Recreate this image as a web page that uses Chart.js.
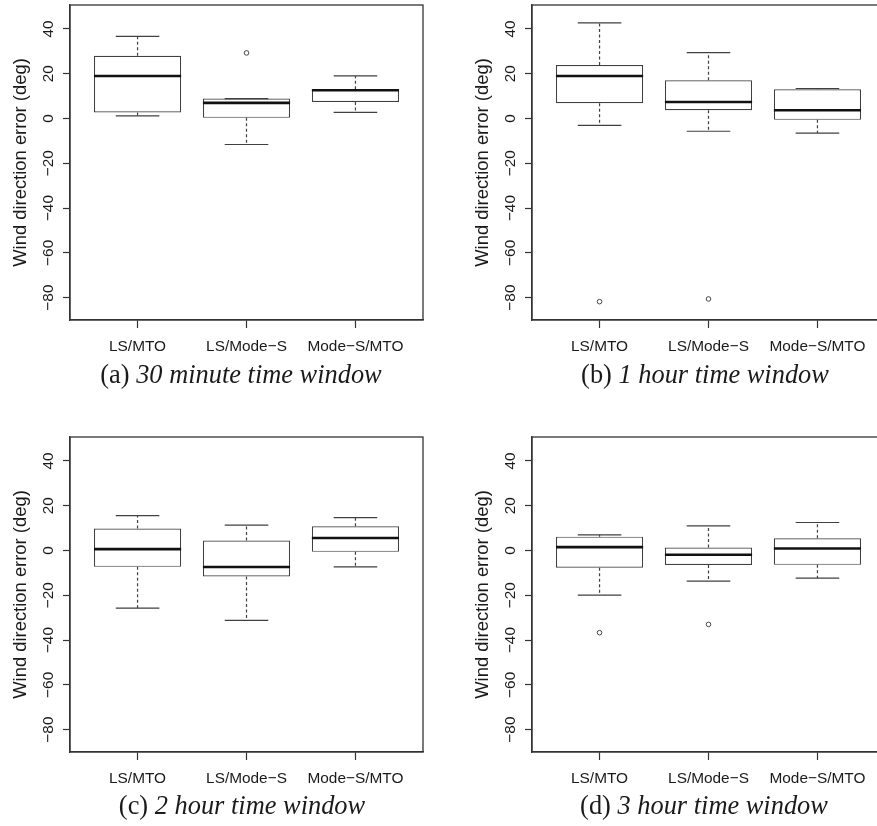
<!DOCTYPE html>
<html lang="en">
<head>
    <meta charset="UTF-8">
    <title>Wind direction error by time window</title>
    <script src="https://cdn.jsdelivr.net/npm/chart.js"></script>
    <style>
        html, body {
            margin: 0;
            padding: 0;
            background: #fff;
            overflow: hidden;
            width: 877px;
            height: 826px;
        }
        .panel {
            position: absolute;
            width: 440px;
            height: 400px;
        }
        .caption {
            position: absolute;
            transform: translateX(-50%);
            white-space: nowrap;
            font-family: "Liberation Serif", "Times New Roman", serif;
            font-size: 26.4px;
            line-height: 1;
            color: #1a1a1a;
        }
        .caption i { font-style: italic; }
    </style>
</head>
<body>
    <canvas id="chartA" class="panel" width="440" height="400" style="left:0;top:0"></canvas>
    <canvas id="chartB" class="panel" width="440" height="400" style="left:462px;top:0"></canvas>
    <canvas id="chartC" class="panel" width="440" height="400" style="left:0;top:432px"></canvas>
    <canvas id="chartD" class="panel" width="440" height="400" style="left:462px;top:432px"></canvas>

    <div class="caption" style="left:241px;top:361px">(a) <i>30 minute time window</i></div>
    <div class="caption" style="left:705px;top:361px">(b) <i>1 hour time window</i></div>
    <div class="caption" style="left:242px;top:792px">(c) <i>2 hour time window</i></div>
    <div class="caption" style="left:704px;top:792px">(d) <i>3 hour time window</i></div>

    <script>
        const groups = ['LS/MTO', 'LS/Mode\u2212S', 'Mode\u2212S/MTO'];
        const yTicks = [40, 20, 0, -20, -40, -60, -80];

        // each box: [lower whisker, Q1, median, Q3, upper whisker]
        const stats30min = [[1.2, 2.7, 19.0, 28.0, 36.7], [-11.6, 0.3, 7.0, 8.9, 8.9], [2.7, 7.4, 12.6, 13.1, 19.0]];
        const outliers30min = [[], [29.3], []];

        const stats1h = [[-3.1, 6.8, 19.0, 23.9, 42.7], [-5.7, 3.7, 7.4, 17.1, 29.4], [-6.5, -0.6, 3.7, 13.1, 13.4]];
        const outliers1h = [[-81.8], [-80.6], []];

        const stats2h = [[-25.7, -7.3, 0.6, 9.8, 15.6], [-31.2, -11.6, -7.4, 4.5, 11.3], [-7.3, -0.6, 5.6, 10.8, 14.7]];
        const outliers2h = [[], [], []];

        const stats3h = [[-19.9, -7.7, 1.5, 6.2, 7.0], [-13.7, -6.5, -1.9, 1.3, 11.0], [-12.3, -6.4, 0.9, 5.5, 12.5]];
        const outliers3h = [[-36.7], [-33.0], []];

        const lineColor = '#404040';
        const tickFont = { family: '"Liberation Sans", Arial, sans-serif', size: 15.4 };

        // whiskers, caps, medians and the frame, placed through the chart scales
        const boxPlotLines = {
            id: 'boxPlotLines',
            afterDatasetsDraw(chart, args, opts) {
                const { ctx, chartArea: area, scales: { x, y } } = chart;
                ctx.save();
                opts.stats.forEach((s, i) => {
                    const pos = i + 1;
                    const cx = x.getPixelForValue(pos);
                    const capL = x.getPixelForValue(pos - 0.2);
                    const capR = x.getPixelForValue(pos + 0.2);
                    const boxL = x.getPixelForValue(pos - 0.4);
                    const boxR = x.getPixelForValue(pos + 0.4);
                    const [lo, q1, med, q3, hi] = s.map(v => y.getPixelForValue(v));

                    ctx.strokeStyle = lineColor;
                    ctx.lineWidth = 1.2;
                    ctx.setLineDash([3, 2.5]);
                    ctx.beginPath();
                    ctx.moveTo(cx, q3); ctx.lineTo(cx, hi);
                    ctx.moveTo(cx, q1); ctx.lineTo(cx, lo);
                    ctx.stroke();

                    ctx.setLineDash([]);
                    ctx.beginPath();
                    ctx.moveTo(capL, hi); ctx.lineTo(capR, hi);
                    ctx.moveTo(capL, lo); ctx.lineTo(capR, lo);
                    ctx.stroke();

                    ctx.strokeStyle = '#111';
                    ctx.lineWidth = 2.6;
                    ctx.beginPath();
                    ctx.moveTo(boxL, med); ctx.lineTo(boxR, med);
                    ctx.stroke();
                });
                ctx.strokeStyle = '#333';
                ctx.lineWidth = 1.3;
                ctx.strokeRect(area.left, area.top, area.right - area.left, area.bottom - area.top);
                ctx.restore();
            }
        };

        function makeChart(id, stats, outliers) {
            const boxes = stats.map((s, i) => ({ x: i + 1, y: [s[1], s[3]] }));
            const points = [];
            outliers.forEach((list, i) => list.forEach(v => points.push({ x: i + 1, y: v })));

            new Chart(document.getElementById(id), {
                type: 'bar',
                data: {
                    datasets: [
                        {
                            data: boxes,
                            backgroundColor: '#fff',
                            borderColor: lineColor,
                            borderWidth: 1.2,
                            borderSkipped: false,
                            barPercentage: 0.8,
                            categoryPercentage: 1
                        },
                        {
                            type: 'scatter',
                            data: points,
                            pointStyle: 'circle',
                            pointRadius: 2.3,
                            borderWidth: 0.9,
                            borderColor: '#333',
                            backgroundColor: 'rgba(0,0,0,0)'
                        }
                    ]
                },
                options: {
                    responsive: false,
                    animation: false,
                    events: [],
                    layout: { padding: { top: 5, right: 17, left: 0, bottom: 0 } },
                    plugins: {
                        legend: { display: false },
                        tooltip: { enabled: false },
                        boxPlotLines: { stats: stats }
                    },
                    scales: {
                        x: {
                            type: 'linear',
                            min: 0.38,
                            max: 3.62,
                            offset: false,
                            afterBuildTicks: s => { s.ticks = groups.map((g, i) => ({ value: i + 1 })); },
                            afterFit: s => { s.height = 80; s.paddingLeft = 0; s.paddingRight = 0; },
                            grid: { offset: false, drawOnChartArea: false, drawTicks: true, tickLength: 8, tickColor: '#333', tickWidth: 1.2 },
                            border: { display: true, color: '#333', width: 1.3 },
                            ticks: {
                                autoSkip: false,
                                maxRotation: 0,
                                padding: 10,
                                color: '#1a1a1a',
                                font: tickFont,
                                callback: v => groups[Math.round(v) - 1]
                            }
                        },
                        y: {
                            min: -90,
                            max: 50.7,
                            afterBuildTicks: s => { s.ticks = yTicks.map(v => ({ value: v })); },
                            afterFit: s => { s.width = 70; s.paddingTop = 0; s.paddingBottom = 0; },
                            grid: { drawOnChartArea: false, drawTicks: true, tickLength: 7, tickColor: '#333', tickWidth: 1.2 },
                            border: { display: true, color: '#333', width: 1.3 },
                            ticks: {
                                minRotation: 90,
                                maxRotation: 90,
                                crossAlign: 'center',
                                padding: 1,
                                color: '#1a1a1a',
                                font: tickFont,
                                callback: v => String(v).replace('-', '\u2212')
                            },
                            title: {
                                display: true,
                                text: 'Wind direction error (deg)',
                                color: '#1a1a1a',
                                font: { family: '"Liberation Sans", Arial, sans-serif', size: 18.4 },
                                padding: { top: 10, bottom: 0 }
                            }
                        }
                    }
                },
                plugins: [boxPlotLines]
            });
        }

        makeChart('chartA', stats30min, outliers30min);
        makeChart('chartB', stats1h, outliers1h);
        makeChart('chartC', stats2h, outliers2h);
        makeChart('chartD', stats3h, outliers3h);
    </script>
</body>
</html>
